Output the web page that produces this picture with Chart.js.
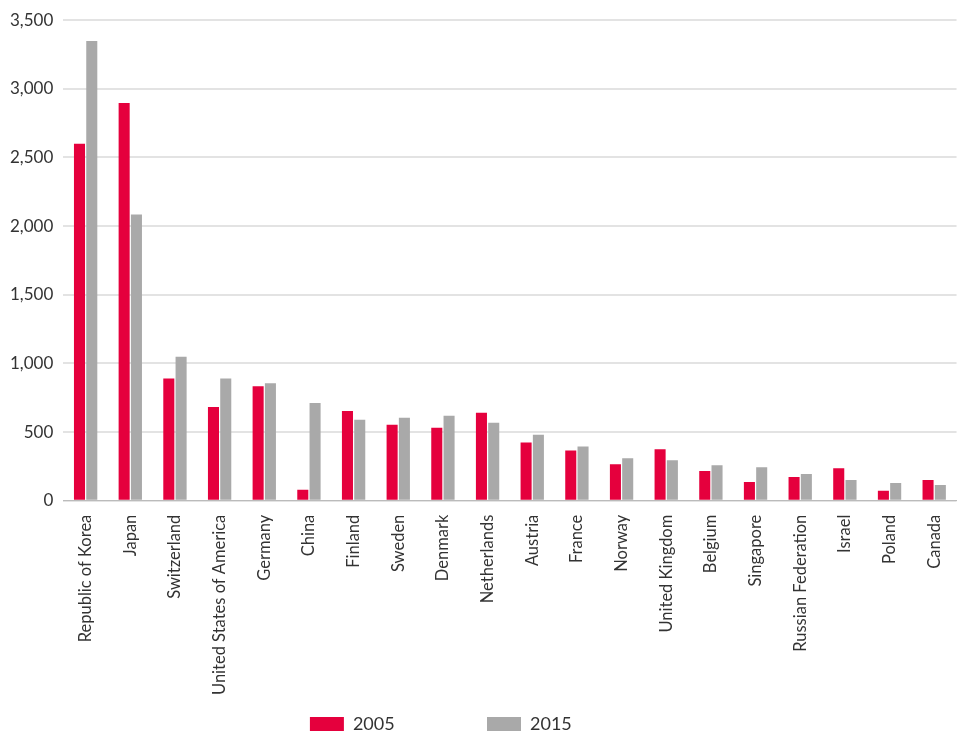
<!DOCTYPE html>
<html><head><meta charset="utf-8">
<script src="https://cdn.jsdelivr.net/npm/chart.js@4"></script>
<style>html,body{margin:0;background:#fff}#w{width:960px;height:743px}</style>
</head><body><div id="w"><canvas id="c"></canvas></div>
<script>
const categories=["Republic of Korea","Japan","Switzerland","United States of America","Germany","China","Finland","Sweden","Denmark","Netherlands","Austria","France","Norway","United Kingdom","Belgium","Singapore","Russian Federation","Israel","Poland","Canada"];
const values2005=[2600,2896,891,683,834,79,654,553,532,640,424,366,266,374,216,137,172,237,72,151];
const values2015=[3349,2084,1049,891,855,711,589,604,618,568,481,395,309,295,259,244,194,151,129,115];
const yTicks=[0,500,1000,1500,2000,2500,3000,3500];
new Chart(document.getElementById('c'),{type:'bar',
data:{labels:categories,datasets:[
{label:'2005',data:values2005,backgroundColor:'#e5003d',categoryPercentage:0.55,barPercentage:0.9},
{label:'2015',data:values2015,backgroundColor:'#a9a9a9',categoryPercentage:0.55,barPercentage:0.9}]},
options:{responsive:true,maintainAspectRatio:false,animation:false,
layout:{padding:{left:0,right:0,top:-4,bottom:0}},
plugins:{legend:{position:'bottom',labels:{boxWidth:34,boxHeight:14,padding:14,font:{size:18,family:'Lato'},color:'#333',
generateLabels:ch=>Chart.defaults.plugins.legend.labels.generateLabels(ch).map(l=>({...l,text:l.text+'                 '}))}},tooltip:{enabled:false}},
scales:{
x:{grid:{display:false},border:{color:'#bbb'},ticks:{maxRotation:90,minRotation:90,padding:6,font:{size:16.5,family:'Lato'},color:'#333'}},
y:{min:0,max:3500,afterBuildTicks:a=>{a.ticks=yTicks.map(v=>({value:v}))},grid:{color:'#e3e3e3',lineWidth:2,drawTicks:false},border:{display:false},
ticks:{padding:10,font:{size:17,family:'Lato'},color:'#333',callback:v=>v.toLocaleString('en-US')}}}}});
</script></body></html>
